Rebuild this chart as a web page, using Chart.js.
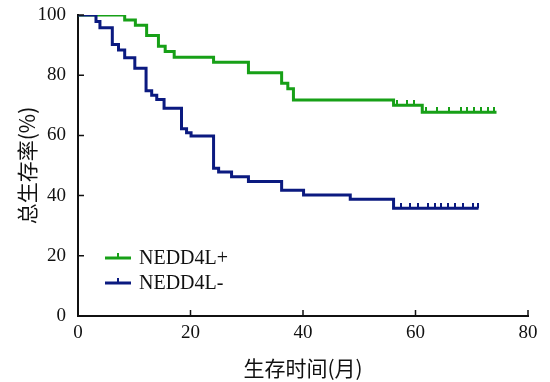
<!DOCTYPE html>
<html>
<head>
<meta charset="utf-8">
<script src="https://cdn.jsdelivr.net/npm/chart.js"></script>
<style>
  body { margin: 0; background: #fff; }
</style>
</head>
<body>
<canvas id="km" width="550" height="382"></canvas>
<script>
// Kaplan-Meier steps: time (months) and survival (%) after each drop
const posTimes = [0, 8.3, 10.2, 12.2, 14.3, 15.5, 17.1, 24.1, 30.3, 36.2, 37.3, 38.3, 56.1, 61.2, 74.4];
const posSurv  = [100, 98.3, 96.6, 93.2, 89.6, 87.9, 86.0, 84.3, 80.8, 77.3, 75.5, 71.8, 70.0, 67.7, 67.7];
const posCensored = [56.7, 58.5, 59.8, 61.8, 63.8, 66.0, 68.0, 69.2, 70.4, 71.6, 72.8, 74.0];

const negTimes = [0, 3.2, 3.9, 6.1, 7.2, 8.3, 10.1, 12.1, 13.1, 14.0, 15.3, 18.4, 19.3, 20.1, 24.1, 25.0, 27.3, 30.3, 36.2, 40.1, 48.4, 56.1, 71.2];
const negSurv  = [100, 97.8, 95.8, 90.2, 88.4, 85.8, 82.3, 74.8, 73.3, 71.9, 69.0, 62.2, 60.9, 59.8, 49.1, 47.8, 46.3, 44.7, 41.8, 40.2, 38.8, 35.8, 35.8];
const negCensored = [57.5, 59.0, 60.5, 62.2, 63.4, 64.6, 65.8, 67.0, 68.5, 70.2, 71.1];

const groupLabels = ['NEDD4L+', 'NEDD4L-'];
const xTitle = '生存时间(月)';
const yTitle = '总生存率(%)';

const green = '#17a017';
const navy = '#0b1a80';

function survivalAt(times, surv, t) {
    let s = surv[0];
    for (let i = 0; i < times.length; i++) {
        if (times[i] <= t) s = surv[i];
    }
    return s;
}

function stepPoints(times, surv) {
    return times.map((t, i) => ({ x: t, y: surv[i] }));
}

function censorPoints(times, surv, cens) {
    return cens.map(t => ({ x: t, y: survivalAt(times, surv, t) }));
}

// small upward tick used as censor mark
function censorMark(color) {
    const c = document.createElement('canvas');
    c.width = 2;
    c.height = 10;
    const g = c.getContext('2d');
    g.fillStyle = color;
    g.fillRect(0, 0, 2, 5);
    return c;
}

// legend drawn inside the plot, lower left
const insideLegend = {
    id: 'insideLegend',
    afterDraw(chart) {
        const ctx = chart.ctx;
        const items = chart.data.datasets.filter(d => d.inLegend);
        ctx.save();
        ctx.font = '20px "Liberation Serif"';
        ctx.textBaseline = 'middle';
        items.forEach((d, i) => {
            const y = 258 + i * 25;
            ctx.strokeStyle = d.borderColor;
            ctx.lineWidth = 3;
            ctx.beginPath();
            ctx.moveTo(105, y);
            ctx.lineTo(131, y);
            ctx.stroke();
            ctx.lineWidth = 2;
            ctx.beginPath();
            ctx.moveTo(118, y);
            ctx.lineTo(118, y - 5);
            ctx.stroke();
            ctx.fillStyle = '#111';
            ctx.fillText(d.label, 139, y + 1);
        });
        ctx.restore();
    }
};

// tick marks pointing into the plot
const inwardTicks = {
    id: 'inwardTicks',
    afterDraw(chart) {
        const { ctx, scales: { x, y } } = chart;
        ctx.save();
        ctx.strokeStyle = '#111';
        ctx.lineWidth = 1.5;
        ctx.beginPath();
        x.ticks.forEach(t => {
            const px = x.getPixelForValue(t.value);
            ctx.moveTo(px, y.bottom);
            ctx.lineTo(px, y.bottom - 6);
        });
        y.ticks.forEach(t => {
            const py = y.getPixelForValue(t.value);
            ctx.moveTo(x.left, py);
            ctx.lineTo(x.left + 6, py);
        });
        ctx.stroke();
        ctx.restore();
    }
};

const tickFont = { family: 'Liberation Serif', size: 19 };
const titleFont = { family: 'Noto Sans CJK SC', size: 21 };

new Chart(document.getElementById('km'), {
    type: 'line',
    data: {
        datasets: [
            {
                label: groupLabels[0],
                inLegend: true,
                order: 2,
                data: stepPoints(posTimes, posSurv),
                borderColor: green,
                borderWidth: 3,
                stepped: 'before',
                pointRadius: 0,
                fill: false
            },
            {
                label: groupLabels[1],
                inLegend: true,
                order: 1,
                data: stepPoints(negTimes, negSurv),
                borderColor: navy,
                borderWidth: 3,
                stepped: 'before',
                pointRadius: 0,
                fill: false
            },
            {
                label: groupLabels[0] + ' censored',
                order: 0,
                data: censorPoints(posTimes, posSurv, posCensored),
                showLine: false,
                pointStyle: censorMark(green),
                borderColor: green
            },
            {
                label: groupLabels[1] + ' censored',
                order: 0,
                data: censorPoints(negTimes, negSurv, negCensored),
                showLine: false,
                pointStyle: censorMark(navy),
                borderColor: navy
            }
        ]
    },
    options: {
        responsive: false,
        animation: false,
        layout: { padding: { top: 15, right: 22, left: 0, bottom: 0 } },
        plugins: {
            legend: { display: false },
            tooltip: { enabled: false }
        },
        scales: {
            x: {
                type: 'linear',
                min: 0,
                max: 80,
                ticks: { stepSize: 20, font: tickFont, color: '#111', padding: 6 },
                grid: { drawOnChartArea: false, drawTicks: false },
                border: { color: '#111', width: 2 },
                title: { display: true, text: xTitle, font: titleFont, color: '#111', padding: { top: 0, bottom: 1 } },
                afterFit: s => { s.height = 66; }
            },
            y: {
                min: 0,
                max: 100,
                ticks: { stepSize: 20, font: tickFont, color: '#111', padding: 12 },
                grid: { drawOnChartArea: false, drawTicks: false },
                border: { color: '#111', width: 2 },
                title: { display: true, text: yTitle, font: titleFont, color: '#111', padding: { top: 14, bottom: 0 } },
                afterFit: s => {
                    s.width = 78;
                    s.paddingTop = 0;
                    s.paddingBottom = 0;
                }
            }
        }
    },
    plugins: [insideLegend, inwardTicks]
});
</script>
</body>
</html>
